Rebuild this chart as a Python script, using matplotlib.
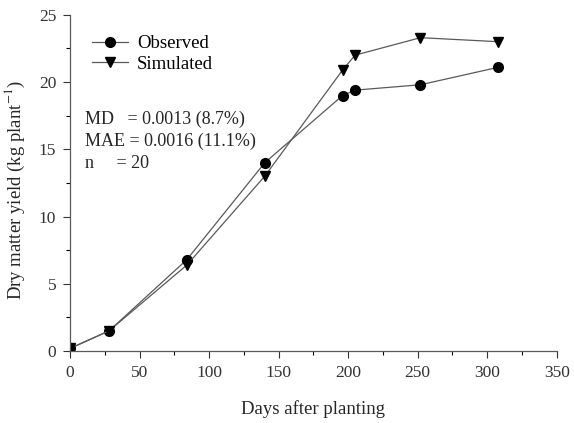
import matplotlib
matplotlib.use("Agg")
import matplotlib.pyplot as plt
from matplotlib.ticker import MultipleLocator

# values
days = [0, 28, 84, 140, 196, 205, 252, 308]
observed = [0.2, 1.5, 6.8, 14.0, 19.0, 19.4, 19.8, 21.1]
simulated = [0.2, 1.5, 6.4, 13.0, 20.9, 22.0, 23.3, 23.0]

stats_lines = ["MD   = 0.0013 (8.7%)", "MAE = 0.0016 (11.1%)", "n     = 20"]

plt.rcParams["font.family"] = ["Liberation Serif", "DejaVu Serif"]
plt.rcParams["mathtext.fontset"] = "stix"

fig = plt.figure(figsize=(5.74, 4.23), dpi=100)
ax = fig.add_axes([0.122, 0.170, 0.848, 0.795])

ax.plot(days, observed, color="0.35", lw=0.9, marker="o", ms=7,
        mfc="black", mec="black", label="Observed")
ax.plot(days, simulated, color="0.35", lw=0.9, marker="v", ms=7,
        mfc="black", mec="black", label="Simulated")

ax.set_xlim(0, 350)
ax.set_ylim(0, 25)
ax.xaxis.set_major_locator(MultipleLocator(50))
ax.xaxis.set_minor_locator(MultipleLocator(25))
ax.yaxis.set_major_locator(MultipleLocator(5))
ax.yaxis.set_minor_locator(MultipleLocator(2.5))
ax.tick_params(which="major", direction="out", length=5, width=0.8, pad=5,
               labelsize=12.5, colors="0.2")
ax.tick_params(which="minor", direction="out", length=3, width=0.8)
ax.spines[["top", "right"]].set_visible(False)
for s in ("left", "bottom"):
    ax.spines[s].set_color("0.35")
    ax.spines[s].set_linewidth(0.9)

ax.set_xlabel("Days after planting", fontsize=13.5, labelpad=14, color="0.15")
ax.set_ylabel("Dry matter yield (kg plant$^{-1}$)", fontsize=13.5, color="0.15")
ax.yaxis.set_label_coords(-0.088, 0.48)

ax.legend(loc="upper left", bbox_to_anchor=(0.045, 0.94), frameon=False,
          fontsize=13.5, handlelength=1.9, labelspacing=0.2, handletextpad=0.5,
          borderpad=0, borderaxespad=0)

for i, line in enumerate(stats_lines):
    ax.text(10.5, 17.25 - i * 1.65, line, fontsize=13, va="center", color="0.15")

fig.savefig("out.png", dpi=100)
